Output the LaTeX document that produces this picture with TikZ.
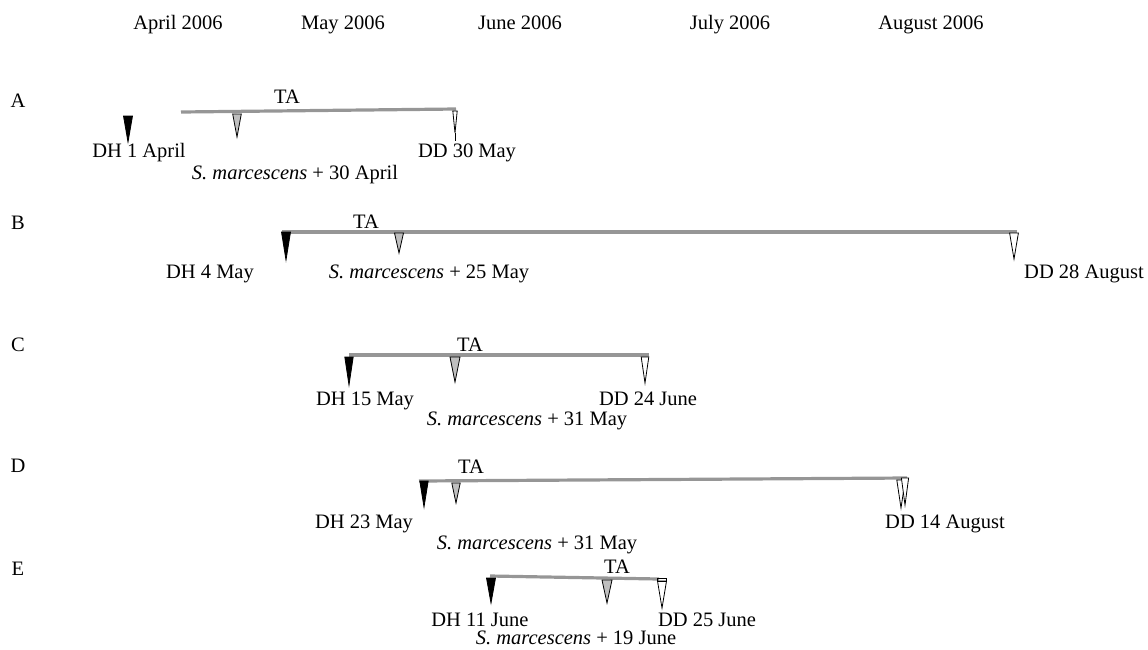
\documentclass[tikz,border=0pt]{standalone}
\usepackage{fontspec}
\setmainfont{Liberation Serif}
\tikzset{
  lbl/.style={inner sep=0pt, anchor=base, font=\fontsize{20.5}{24}\selectfont},
  bar/.style={draw={rgb,255:red,150;green,150;blue,150}, line width=3.2pt},
  trk/.style={draw=black, line width=0.8pt, line join=miter},
}
\newcommand\tri[5]{\filldraw[trk, fill=#5] ({#1-#4},#2) -- ({#1+#4},#2) -- (#1,#3) -- cycle;}
\begin{document}
\begin{tikzpicture}[x=1pt,y=-1pt]
\useasboundingbox (0,0) rectangle (1148,649);
% months
\node[lbl] (mApr) at (178,29) {April 2006};
\node[lbl] (mMay) at (343,29) {May 2006};
\node[lbl] (mJun) at (520,29) {June 2006};
\node[lbl] (mJul) at (730,29) {July 2006};
\node[lbl] (mAug) at (931,29) {August 2006};
% row labels
\node[lbl] (rA) at (18,107) {A};
\node[lbl] (rB) at (18,229) {B};
\node[lbl] (rC) at (18,351) {C};
\node[lbl] (rD) at (18,472) {D};
\node[lbl] (rE) at (18,575) {E};
% ---- Row A
\coordinate (a1) at (181,112);
\coordinate (a2) at (456,109);
\draw[bar] (a1) -- (a2);
\node[lbl] (taA) at (287,103) {TA};
\tri{128}{116}{142}{4.5}{black}
\tri{237}{114}{137}{4.3}{lightgray}
\tri{455}{111}{133}{2.2}{white}
\draw[trk] (455,133) -- (455,141);
\node[lbl] (dhA) at (139,157) {DH 1 April};
\node[lbl] (ddA) at (467,157) {DD 30 May};
\node[lbl] (smA) at (295,179) {\textit{S. marcescens} + 30 April};
% ---- Row B
\coordinate (b1) at (282,232);
\coordinate (b2) at (1017,232);
\draw[bar] (b1) -- (b2);
\node[lbl] (taB) at (366,228) {TA};
\tri{286}{232}{260}{4.5}{black}
\tri{399}{233}{253}{4.5}{lightgray}
\tri{1014}{233}{259}{4.4}{white}
\node[lbl] (dhB) at (210,278) {DH 4 May};
\node[lbl] (smB) at (429,278) {\textit{S. marcescens} + 25 May};
\node[lbl] (ddB) at (1084,278) {DD 28 August};
% ---- Row C
\coordinate (c1) at (349,355);
\coordinate (c2) at (649,355);
\draw[bar] (c1) -- (c2);
\node[lbl] (taC) at (470,351) {TA};
\tri{349}{357}{385}{4.2}{black}
\tri{455}{357}{382}{5}{lightgray}
\tri{645}{357}{383}{3.8}{white}
\node[lbl] (dhC) at (365,405) {DH 15 May};
\node[lbl] (ddC) at (648,405) {DD 24 June};
\node[lbl] (smC) at (527,425) {\textit{S. marcescens} + 31 May};
% ---- Row D
\coordinate (d1) at (419,481);
\coordinate (d2) at (907,478);
\draw[bar] (d1) -- (d2);
\node[lbl] (taD) at (471,473) {TA};
\tri{424}{481}{507}{4.2}{black}
\tri{456}{483}{503}{4.2}{lightgray}
\tri{901}{480}{508}{4.2}{white}
\tri{905}{478}{505}{3.6}{white}
\node[lbl] (dhD) at (364,528) {DH 23 May};
\node[lbl] (ddD) at (945,528) {DD 14 August};
\node[lbl] (smD) at (537,549) {\textit{S. marcescens} + 31 May};
% ---- Row E
\coordinate (e1) at (490,576);
\coordinate (e2) at (659,579);
\draw[bar] (e1) -- (e2);
\node[lbl] (taE) at (617,573) {TA};
\tri{491}{578}{603}{4.5}{black}
\tri{607}{580}{603}{5}{lightgray}
\tri{662}{581}{608}{4.5}{white}
\draw[trk] (657.5,578) -- (666.5,578) -- (666.5,581) -- (657.5,581) -- cycle;
\node[lbl] (dhE) at (480,626) {DH 11 June};
\node[lbl] (ddE) at (707,626) {DD 25 June};
\node[lbl] (smE) at (576,644.5) {\textit{S. marcescens} + 19 June};
\end{tikzpicture}
\end{document}
